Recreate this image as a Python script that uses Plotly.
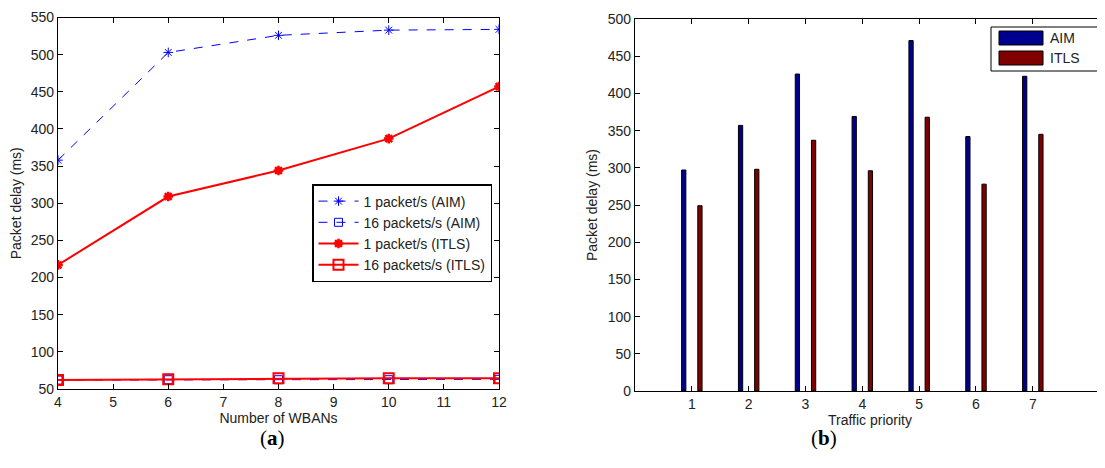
import plotly.graph_objects as go

# ---- Panel (a) data ----
wbans = [4, 6, 8, 10, 12]
aim_1pkt = [358, 503, 526, 533, 534]
aim_16pkt = [62, 62.5, 62.5, 62.5, 63]
itls_1pkt = [217, 309, 344, 387, 457]
itls_16pkt = [62, 63, 64.5, 64.5, 64.5]

# ---- Panel (b) data ----
priority = [1, 2, 3, 4, 5, 6, 7]
aim_delay = [297, 357, 426, 369, 471, 342, 423]
itls_delay = [249, 298, 337, 296, 368, 278, 345]
bar_names = ["AIM", "ITLS"]
bar_colors = ["#00008F", "#800000"]

# page body has an 8px default margin; compensate so layout matches the window pixels
OFF = 8
W, H = 1105 - OFF, 468 - OFF
FONT = "Liberation Sans, Arial, sans-serif"
TXT = "#222222"


def px(xp):
    return (xp - OFF) / W


def py(yp):
    return 1 - (yp - OFF) / H


fig = go.Figure()

fig.add_trace(go.Scatter(x=wbans, y=aim_1pkt, name="1 packet/s (AIM)", mode="lines+markers",
                         line=dict(color="#0000FF", width=1, dash="dash"),
                         marker=dict(symbol="asterisk-open", size=8, line=dict(color="#0000FF", width=1)),
                         xaxis="x", yaxis="y"))
fig.add_trace(go.Scatter(x=wbans, y=aim_16pkt, name="16 packets/s (AIM)", mode="lines+markers",
                         line=dict(color="#0000FF", width=1, dash="dash"),
                         marker=dict(symbol="square-open", size=8, color="#0000FF", line=dict(width=1)),
                         xaxis="x", yaxis="y"))
fig.add_trace(go.Scatter(x=wbans, y=itls_1pkt, name="1 packet/s (ITLS)", mode="lines+markers",
                         line=dict(color="#FF0000", width=2),
                         marker=dict(symbol="asterisk-open", size=8, line=dict(color="#FF0000", width=2.5)),
                         xaxis="x", yaxis="y"))
fig.add_trace(go.Scatter(x=wbans, y=itls_16pkt, name="16 packets/s (ITLS)", mode="lines+markers",
                         line=dict(color="#FF0000", width=2),
                         marker=dict(symbol="square-open", size=10, color="#FF0000", line=dict(width=2)),
                         xaxis="x", yaxis="y"))

fig.add_trace(go.Bar(x=priority, y=aim_delay, name=bar_names[0], width=0.075, offset=-0.18,
                     marker=dict(color=bar_colors[0], line=dict(color="black", width=1)),
                     xaxis="x2", yaxis="y2", showlegend=False))
fig.add_trace(go.Bar(x=priority, y=itls_delay, name=bar_names[1], width=0.075, offset=0.105,
                     marker=dict(color=bar_colors[1], line=dict(color="black", width=1)),
                     xaxis="x2", yaxis="y2", showlegend=False))

axis_common = dict(showline=True, linecolor="black", linewidth=1.2, ticks="inside", ticklen=5,
                   tickcolor="black", showgrid=False, zeroline=False, automargin=False,
                   tickfont=dict(family=FONT, size=14, color=TXT),
                   title_font=dict(family=FONT, size=14, color=TXT))

fig.update_layout(
    width=W, height=H, margin=dict(l=0, r=0, t=0, b=0),
    paper_bgcolor="white", plot_bgcolor="white",
    barmode="overlay",
    xaxis=dict(axis_common, domain=[px(58), px(499)], range=[4, 12], tickvals=list(range(4, 13)),
               mirror="ticks", title=dict(text="Number of WBANs", standoff=4), anchor="y"),
    yaxis=dict(axis_common, domain=[py(389), py(17.5)], range=[50, 550], tickvals=list(range(50, 551, 50)),
               mirror="ticks", title=dict(text="Packet delay (ms)", standoff=6), anchor="x"),
    xaxis2=dict(axis_common, domain=[px(635), 1], range=[0, (1105 - 635) / 56.83], tickvals=priority,
                mirror="ticks", title=dict(text="Traffic priority", standoff=4), anchor="y2"),
    yaxis2=dict(axis_common, domain=[py(391), py(19)], range=[0, 500], tickvals=list(range(0, 501, 50)),
                mirror=False, title=dict(text="Packet delay (ms)", standoff=6), anchor="x2"),
    legend=dict(x=px(312), y=py(184), xanchor="left", yanchor="top",
                bgcolor="white", bordercolor="black", borderwidth=1.5,
                font=dict(family=FONT, size=14, color=TXT), tracegroupgap=0, itemwidth=40),
    showlegend=True,
)

# custom legend for panel (b) with MATLAB-style wide swatches
fig.add_shape(type="rect", xref="paper", yref="paper", x0=px(991), x1=px(1112),
              y0=py(71), y1=py(27), line=dict(color="black", width=1), fillcolor="white")
for i, (nm, col) in enumerate(zip(bar_names, bar_colors)):
    ytop = 31 + i * 20
    fig.add_shape(type="rect", xref="paper", yref="paper", x0=px(999), x1=px(1043),
                  y0=py(ytop + 14), y1=py(ytop), line=dict(color="black", width=1), fillcolor=col)
    fig.add_annotation(text=nm, x=px(1048), y=py(ytop + 7), xref="paper", yref="paper",
                       xanchor="left", yanchor="middle", showarrow=False,
                       font=dict(family=FONT, size=14, color=TXT))

fig.add_annotation(text="(<b>a</b>)", x=px(258), y=py(452), xref="paper", yref="paper",
                   showarrow=False, font=dict(family="Liberation Serif, Times New Roman, serif", size=21, color="black"))
fig.add_annotation(text="(<b>b</b>)", x=px(839), y=py(452), xref="paper", yref="paper",
                   showarrow=False, font=dict(family="Liberation Serif, Times New Roman, serif", size=21, color="black"))

fig.write_html("out.html")
